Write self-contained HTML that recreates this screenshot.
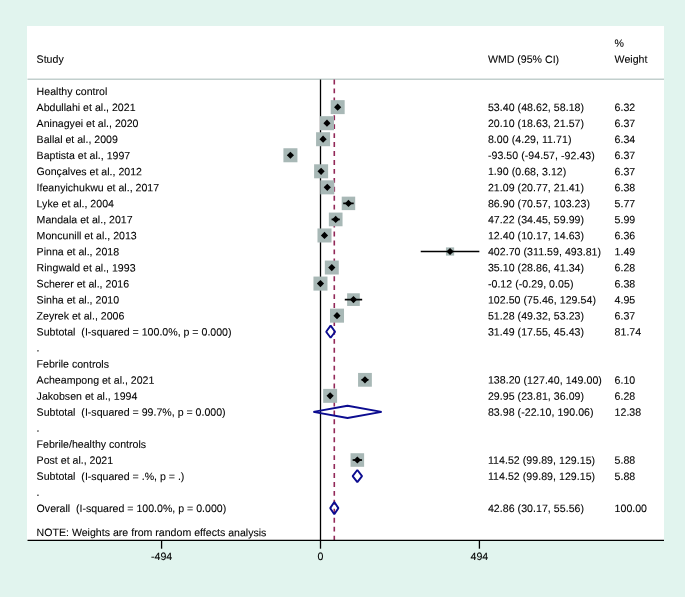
<!DOCTYPE html>
<html><head><meta charset="utf-8"><title>Forest plot</title>
<style>html,body{margin:0;padding:0;background:#e1f4ee;}body{width:685px;height:597px;overflow:hidden;font-family:"Liberation Sans",sans-serif;}svg{display:block;will-change:transform;}</style>
</head><body><svg width="685" height="597" viewBox="0 0 685 597"><defs></defs><rect x="0" y="0" width="685" height="597" fill="#e1f4ee"/><rect x="27" y="26" width="637" height="514.5" fill="#fff"/><line x1="27.5" y1="79.2" x2="664" y2="79.2" stroke="#c2cfcd" stroke-width="1.4"/><line x1="320.5" y1="79.5" x2="320.5" y2="540" stroke="#000" stroke-width="1.3"/><line x1="334.29" y1="79.5" x2="334.29" y2="540" stroke="#922858" stroke-width="1.6" stroke-dasharray="4.9 4.044"/><g fill="#a8b8b6"><rect x="330.69" y="100.15" width="13.97" height="13.97"/><rect x="319.96" y="116.17" width="14.02" height="14.02"/><rect x="316.08" y="132.23" width="13.99" height="13.99"/><rect x="283.41" y="148.25" width="14.02" height="14.02"/><rect x="314.10" y="164.29" width="14.02" height="14.02"/><rect x="320.27" y="180.33" width="14.03" height="14.03"/><rect x="341.72" y="196.64" width="13.47" height="13.47"/><rect x="328.85" y="212.58" width="13.68" height="13.68"/><rect x="317.49" y="228.46" width="14.01" height="14.01"/><rect x="445.95" y="247.40" width="8.20" height="8.20"/><rect x="324.82" y="260.57" width="13.94" height="13.94"/><rect x="313.45" y="276.57" width="14.03" height="14.03"/><rect x="347.13" y="293.28" width="12.68" height="12.68"/><rect x="329.99" y="308.65" width="14.02" height="14.02"/><rect x="358.07" y="372.93" width="13.78" height="13.78"/><rect x="323.17" y="388.89" width="13.94" height="13.94"/><rect x="350.55" y="453.23" width="13.57" height="13.57"/></g><g fill="#000"><path d="M336.14 107.14H339.22" stroke="#000" stroke-width="1.7"/><path d="M334.08 107.14L337.68 103.54L341.28 107.14L337.68 110.74Z"/><path d="M326.49 123.18H327.44" stroke="#000" stroke-width="1.7"/><path d="M323.37 123.18L326.97 119.58L330.57 123.18L326.97 126.78Z"/><path d="M321.88 139.22H324.27" stroke="#000" stroke-width="1.7"/><path d="M319.47 139.22L323.07 135.62L326.67 139.22L323.07 142.82Z"/><path d="M290.08 155.26H290.77" stroke="#000" stroke-width="1.7"/><path d="M286.82 155.26L290.42 151.66L294.02 155.26L290.42 158.86Z"/><path d="M320.72 171.30H321.50" stroke="#000" stroke-width="1.7"/><path d="M317.51 171.30L321.11 167.70L324.71 171.30L321.11 174.90Z"/><path d="M327.18 187.34H327.39" stroke="#000" stroke-width="1.7"/><path d="M323.68 187.34L327.28 183.74L330.88 187.34L327.28 190.94Z"/><path d="M343.20 203.38H353.71" stroke="#000" stroke-width="1.7"/><path d="M344.86 203.38L348.46 199.78L352.06 203.38L348.46 206.98Z"/><path d="M331.58 219.42H339.80" stroke="#000" stroke-width="1.7"/><path d="M332.09 219.42L335.69 215.82L339.29 219.42L335.69 223.02Z"/><path d="M323.77 235.46H325.21" stroke="#000" stroke-width="1.7"/><path d="M320.89 235.46L324.49 231.86L328.09 235.46L324.49 239.06Z"/><path d="M420.74 251.50H479.36" stroke="#000" stroke-width="1.7"/><path d="M446.45 251.50L450.05 247.90L453.65 251.50L450.05 255.10Z"/><path d="M329.78 267.54H333.80" stroke="#000" stroke-width="1.7"/><path d="M328.19 267.54L331.79 263.94L335.39 267.54L331.79 271.14Z"/><path d="M320.41 283.58H320.52" stroke="#000" stroke-width="1.7"/><path d="M316.86 283.58L320.46 279.98L324.06 283.58L320.46 287.18Z"/><path d="M344.78 299.62H362.17" stroke="#000" stroke-width="1.7"/><path d="M349.87 299.62L353.47 296.02L357.07 299.62L353.47 303.22Z"/><path d="M336.37 315.66H337.62" stroke="#000" stroke-width="1.7"/><path d="M333.40 315.66L337.00 312.06L340.60 315.66L337.00 319.26Z"/><path d="M326.15 331.70L330.63 325.60L335.11 331.70L330.63 337.80Z" fill="none" stroke="#0c0c90" stroke-width="1.9" stroke-linejoin="bevel"/><path d="M361.48 379.82H368.43" stroke="#000" stroke-width="1.7"/><path d="M361.36 379.82L364.96 376.22L368.56 379.82L364.96 383.42Z"/><path d="M328.16 395.86H332.11" stroke="#000" stroke-width="1.7"/><path d="M326.53 395.86L330.13 392.26L333.73 395.86L330.13 399.46Z"/><path d="M313.39 411.90L347.52 405.80L381.64 411.90L347.52 418.00Z" fill="none" stroke="#0c0c90" stroke-width="1.9" stroke-linejoin="bevel"/><path d="M352.63 460.02H362.05" stroke="#000" stroke-width="1.7"/><path d="M353.74 460.02L357.34 456.42L360.94 460.02L357.34 463.62Z"/><path d="M352.63 476.06L357.34 469.96L362.05 476.06L357.34 482.16Z" fill="none" stroke="#0c0c90" stroke-width="1.9" stroke-linejoin="bevel"/><path d="M330.21 508.14L334.29 502.04L338.37 508.14L334.29 514.24Z" fill="none" stroke="#0c0c90" stroke-width="1.9" stroke-linejoin="bevel"/></g><line x1="27.5" y1="540.4" x2="664" y2="540.4" stroke="#000" stroke-width="1.3"/><line x1="161.58" y1="540" x2="161.58" y2="548.7" stroke="#000" stroke-width="1.3"/><line x1="320.50" y1="540" x2="320.50" y2="548.7" stroke="#000" stroke-width="1.3"/><line x1="479.42" y1="540" x2="479.42" y2="548.7" stroke="#000" stroke-width="1.3"/><g font-family="Liberation Sans, sans-serif" font-size="10.6" fill="#000" stroke="#000" stroke-width="0.08" style="white-space:pre"><text xml:space="preserve" x="36.60" y="62.87" transform="rotate(0.06 50.2 62.87)">Study</text><text xml:space="preserve" x="487.90" y="62.87" transform="rotate(0.06 523.5 62.87)">WMD (95% CI)</text><text xml:space="preserve" x="614.60" y="46.83" transform="rotate(0.06 619.3 46.83)">%</text><text xml:space="preserve" x="614.60" y="62.87" transform="rotate(0.06 631.0 62.87)">Weight</text><text xml:space="preserve" x="36.60" y="94.95" transform="rotate(0.06 72.0 94.95)">Healthy control</text><text xml:space="preserve" x="36.60" y="110.99" transform="rotate(0.06 86.1 110.99)">Abdullahi et al., 2021</text><text xml:space="preserve" x="487.90" y="110.99" letter-spacing="0.04" transform="rotate(0.06 536.0 110.99)">53.40 (48.62, 58.18)</text><text xml:space="preserve" x="614.60" y="110.99" transform="rotate(0.06 624.9 110.99)">6.32</text><text xml:space="preserve" x="36.60" y="127.03" transform="rotate(0.06 87.6 127.03)">Aninagyei et al., 2020</text><text xml:space="preserve" x="487.90" y="127.03" letter-spacing="0.04" transform="rotate(0.06 536.0 127.03)">20.10 (18.63, 21.57)</text><text xml:space="preserve" x="614.60" y="127.03" transform="rotate(0.06 624.9 127.03)">6.37</text><text xml:space="preserve" x="36.60" y="143.07" transform="rotate(0.06 77.3 143.07)">Ballal et al., 2009</text><text xml:space="preserve" x="487.90" y="143.07" letter-spacing="0.04" transform="rotate(0.06 529.7 143.07)">8.00 (4.29, 11.71)</text><text xml:space="preserve" x="614.60" y="143.07" transform="rotate(0.06 624.9 143.07)">6.34</text><text xml:space="preserve" x="36.60" y="159.11" transform="rotate(0.06 83.4 159.11)">Baptista et al., 1997</text><text xml:space="preserve" x="487.90" y="159.11" letter-spacing="0.04" transform="rotate(0.06 541.4 159.11)">-93.50 (-94.57, -92.43)</text><text xml:space="preserve" x="614.60" y="159.11" transform="rotate(0.06 624.9 159.11)">6.37</text><text xml:space="preserve" x="36.60" y="175.15" transform="rotate(0.06 89.3 175.15)">Gonçalves et al., 2012</text><text xml:space="preserve" x="487.90" y="175.15" letter-spacing="0.04" transform="rotate(0.06 527.1 175.15)">1.90 (0.68, 3.12)</text><text xml:space="preserve" x="614.60" y="175.15" transform="rotate(0.06 624.9 175.15)">6.37</text><text xml:space="preserve" x="36.60" y="191.19" transform="rotate(0.06 97.9 191.19)">Ifeanyichukwu et al., 2017</text><text xml:space="preserve" x="487.90" y="191.19" letter-spacing="0.04" transform="rotate(0.06 536.0 191.19)">21.09 (20.77, 21.41)</text><text xml:space="preserve" x="614.60" y="191.19" transform="rotate(0.06 624.9 191.19)">6.38</text><text xml:space="preserve" x="36.60" y="207.23" transform="rotate(0.06 75.3 207.23)">Lyke et al., 2004</text><text xml:space="preserve" x="487.90" y="207.23" letter-spacing="0.04" transform="rotate(0.06 539.0 207.23)">86.90 (70.57, 103.23)</text><text xml:space="preserve" x="614.60" y="207.23" transform="rotate(0.06 624.9 207.23)">5.77</text><text xml:space="preserve" x="36.60" y="223.27" transform="rotate(0.06 84.6 223.27)">Mandala et al., 2017</text><text xml:space="preserve" x="487.90" y="223.27" letter-spacing="0.04" transform="rotate(0.06 536.0 223.27)">47.22 (34.45, 59.99)</text><text xml:space="preserve" x="614.60" y="223.27" transform="rotate(0.06 624.9 223.27)">5.99</text><text xml:space="preserve" x="36.60" y="239.31" transform="rotate(0.06 86.7 239.31)">Moncunill et al., 2013</text><text xml:space="preserve" x="487.90" y="239.31" letter-spacing="0.04" transform="rotate(0.06 536.0 239.31)">12.40 (10.17, 14.63)</text><text xml:space="preserve" x="614.60" y="239.31" transform="rotate(0.06 624.9 239.31)">6.36</text><text xml:space="preserve" x="36.60" y="255.35" transform="rotate(0.06 77.9 255.35)">Pinna et al., 2018</text><text xml:space="preserve" x="487.90" y="255.35" letter-spacing="0.04" transform="rotate(0.06 544.5 255.35)">402.70 (311.59, 493.81)</text><text xml:space="preserve" x="614.60" y="255.35" transform="rotate(0.06 624.9 255.35)">1.49</text><text xml:space="preserve" x="36.60" y="271.39" transform="rotate(0.06 86.1 271.39)">Ringwald et al., 1993</text><text xml:space="preserve" x="487.90" y="271.39" letter-spacing="0.04" transform="rotate(0.06 536.0 271.39)">35.10 (28.86, 41.34)</text><text xml:space="preserve" x="614.60" y="271.39" transform="rotate(0.06 624.9 271.39)">6.28</text><text xml:space="preserve" x="36.60" y="287.43" transform="rotate(0.06 82.9 287.43)">Scherer et al., 2016</text><text xml:space="preserve" x="487.90" y="287.43" letter-spacing="0.04" transform="rotate(0.06 530.7 287.43)">-0.12 (-0.29, 0.05)</text><text xml:space="preserve" x="614.60" y="287.43" transform="rotate(0.06 624.9 287.43)">6.38</text><text xml:space="preserve" x="36.60" y="303.47" transform="rotate(0.06 77.9 303.47)">Sinha et al., 2010</text><text xml:space="preserve" x="487.90" y="303.47" letter-spacing="0.04" transform="rotate(0.06 542.0 303.47)">102.50 (75.46, 129.54)</text><text xml:space="preserve" x="614.60" y="303.47" transform="rotate(0.06 624.9 303.47)">4.95</text><text xml:space="preserve" x="36.60" y="319.51" transform="rotate(0.06 80.5 319.51)">Zeyrek et al., 2006</text><text xml:space="preserve" x="487.90" y="319.51" letter-spacing="0.04" transform="rotate(0.06 536.0 319.51)">51.28 (49.32, 53.23)</text><text xml:space="preserve" x="614.60" y="319.51" transform="rotate(0.06 624.9 319.51)">6.37</text><text xml:space="preserve" x="36.60" y="335.55" transform="rotate(0.06 134.1 335.55)">Subtotal  (I-squared = 100.0%, p = 0.000)</text><text xml:space="preserve" x="487.90" y="335.55" letter-spacing="0.04" transform="rotate(0.06 536.0 335.55)">31.49 (17.55, 45.43)</text><text xml:space="preserve" x="614.60" y="335.55" transform="rotate(0.06 627.9 335.55)">81.74</text><text xml:space="preserve" x="36.60" y="351.59" transform="rotate(0.06 38.1 351.59)">.</text><text xml:space="preserve" x="36.60" y="367.63" transform="rotate(0.06 72.8 367.63)">Febrile controls</text><text xml:space="preserve" x="36.60" y="383.67" transform="rotate(0.06 95.5 383.67)">Acheampong et al., 2021</text><text xml:space="preserve" x="487.90" y="383.67" letter-spacing="0.04" transform="rotate(0.06 544.9 383.67)">138.20 (127.40, 149.00)</text><text xml:space="preserve" x="614.60" y="383.67" transform="rotate(0.06 624.9 383.67)">6.10</text><text xml:space="preserve" x="36.60" y="399.71" transform="rotate(0.06 87.0 399.71)">Jakobsen et al., 1994</text><text xml:space="preserve" x="487.90" y="399.71" letter-spacing="0.04" transform="rotate(0.06 536.0 399.71)">29.95 (23.81, 36.09)</text><text xml:space="preserve" x="614.60" y="399.71" transform="rotate(0.06 624.9 399.71)">6.28</text><text xml:space="preserve" x="36.60" y="415.75" transform="rotate(0.06 131.2 415.75)">Subtotal  (I-squared = 99.7%, p = 0.000)</text><text xml:space="preserve" x="487.90" y="415.75" letter-spacing="0.04" transform="rotate(0.06 540.8 415.75)">83.98 (-22.10, 190.06)</text><text xml:space="preserve" x="614.60" y="415.75" transform="rotate(0.06 627.9 415.75)">12.38</text><text xml:space="preserve" x="36.60" y="431.79" transform="rotate(0.06 38.1 431.79)">.</text><text xml:space="preserve" x="36.60" y="447.83" transform="rotate(0.06 91.4 447.83)">Febrile/healthy controls</text><text xml:space="preserve" x="36.60" y="463.87" transform="rotate(0.06 74.9 463.87)">Post et al., 2021</text><text xml:space="preserve" x="487.90" y="463.87" letter-spacing="0.04" transform="rotate(0.06 541.6 463.87)">114.52 (99.89, 129.15)</text><text xml:space="preserve" x="614.60" y="463.87" transform="rotate(0.06 624.9 463.87)">5.88</text><text xml:space="preserve" x="36.60" y="479.91" transform="rotate(0.06 110.5 479.91)">Subtotal  (I-squared = .%, p = .)</text><text xml:space="preserve" x="487.90" y="479.91" letter-spacing="0.04" transform="rotate(0.06 541.6 479.91)">114.52 (99.89, 129.15)</text><text xml:space="preserve" x="614.60" y="479.91" transform="rotate(0.06 624.9 479.91)">5.88</text><text xml:space="preserve" x="36.60" y="495.95" transform="rotate(0.06 38.1 495.95)">.</text><text xml:space="preserve" x="36.60" y="511.99" transform="rotate(0.06 131.5 511.99)">Overall  (I-squared = 100.0%, p = 0.000)</text><text xml:space="preserve" x="487.90" y="511.99" letter-spacing="0.04" transform="rotate(0.06 536.0 511.99)">42.86 (30.17, 55.56)</text><text xml:space="preserve" x="614.60" y="511.99" transform="rotate(0.06 630.8 511.99)">100.00</text><text xml:space="preserve" x="36.60" y="536.05" transform="rotate(0.06 151.6 536.05)">NOTE: Weights are from random effects analysis</text><text xml:space="preserve" x="161.58" y="559.90" text-anchor="middle" transform="rotate(0.06 161.6 559.90)">-494</text><text xml:space="preserve" x="320.50" y="559.90" text-anchor="middle" transform="rotate(0.06 320.5 559.90)">0</text><text xml:space="preserve" x="479.42" y="559.90" text-anchor="middle" transform="rotate(0.06 479.4 559.90)">494</text></g></svg></body></html>
